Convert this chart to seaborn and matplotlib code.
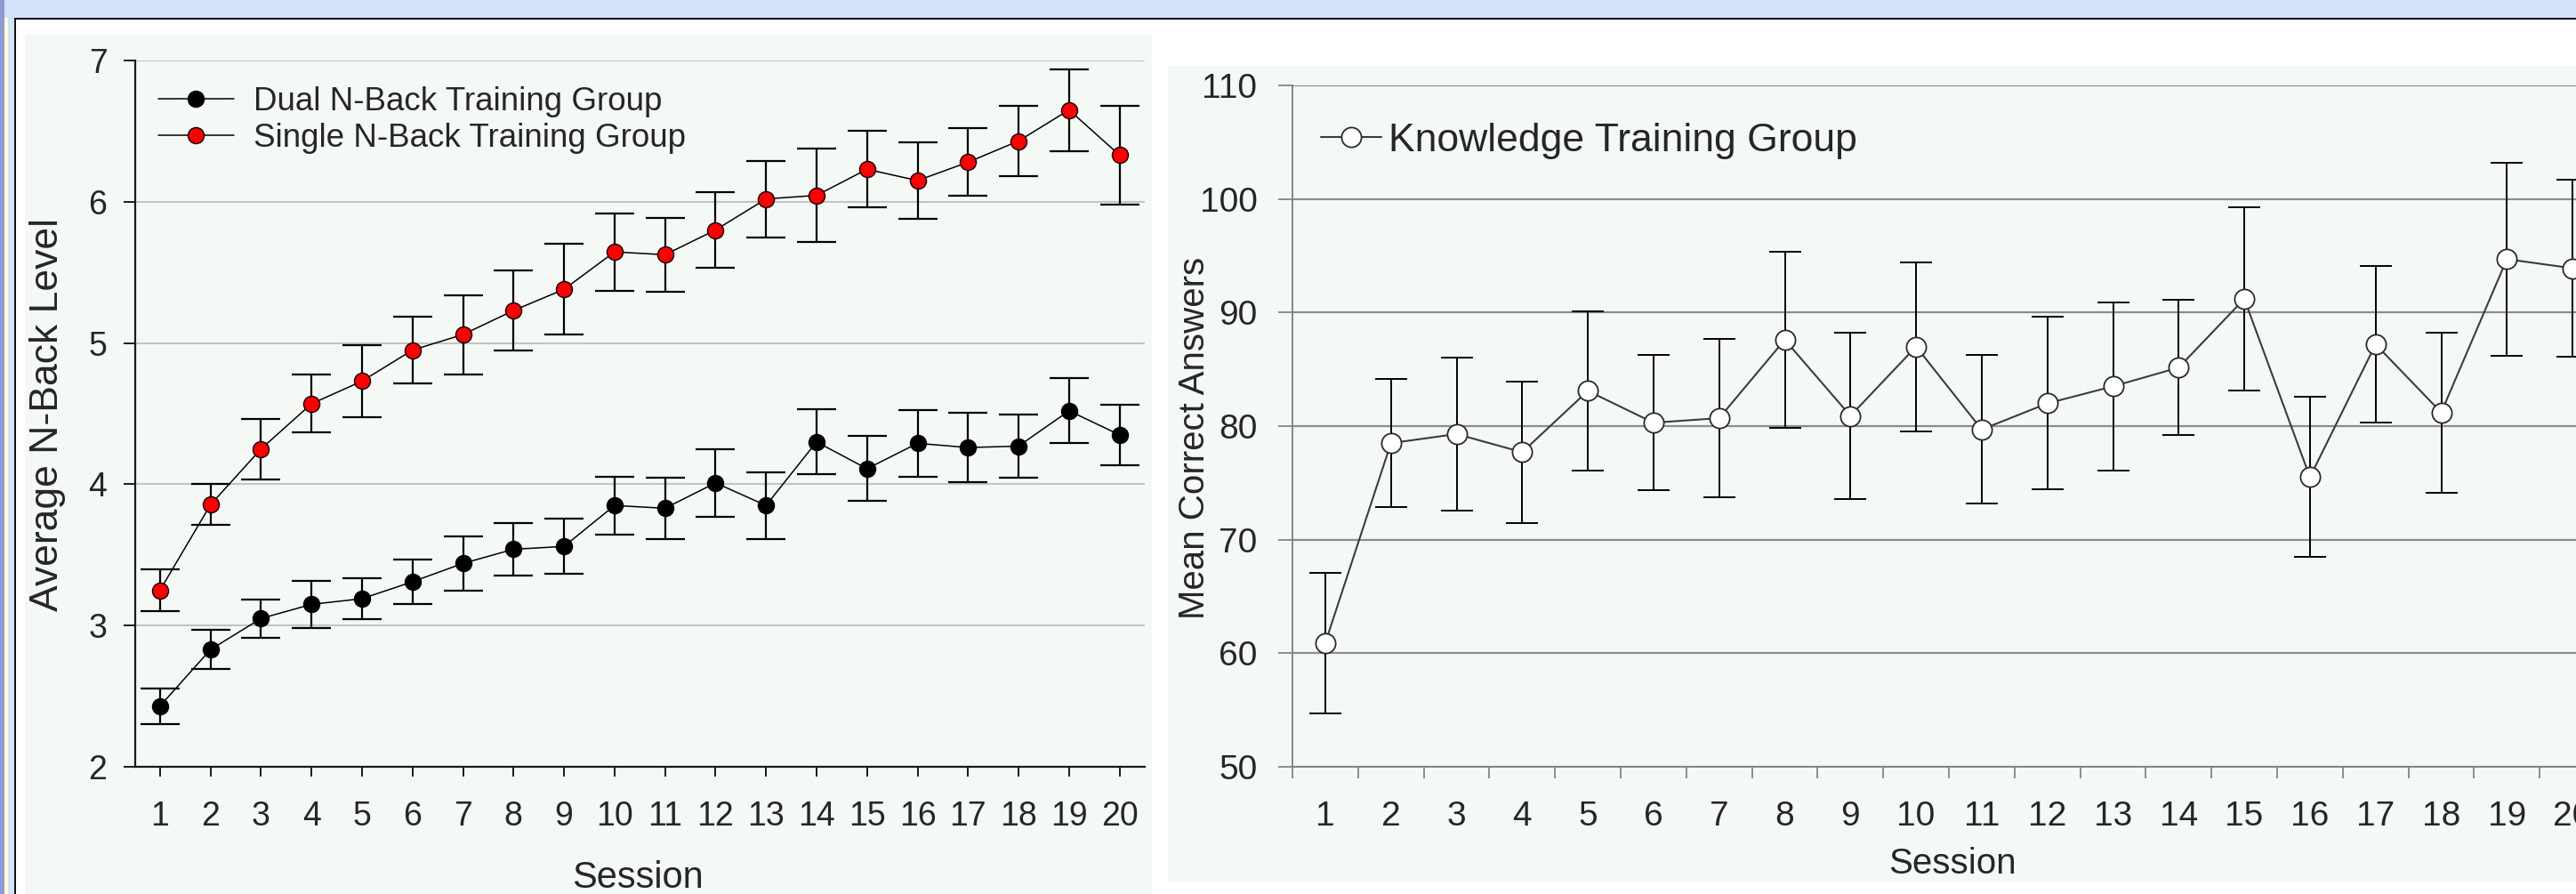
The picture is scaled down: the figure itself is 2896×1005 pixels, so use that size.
import numpy as np
import matplotlib
matplotlib.use("Agg")
import matplotlib.pyplot as plt
from matplotlib.patches import Rectangle
from matplotlib.ticker import FixedLocator, NullFormatter
import seaborn as sns

# ---- data -------------------------------------------------------------
sessions = np.arange(1, 21)

dual_mean = [2.43, 2.83, 3.05, 3.15, 3.19, 3.31, 3.44, 3.54, 3.56, 3.85,
             3.83, 4.01, 3.85, 4.30, 4.11, 4.29, 4.26, 4.27, 4.52, 4.35]
dual_se = [0.125, 0.14, 0.135, 0.165, 0.145, 0.155, 0.19, 0.185, 0.195, 0.205,
           0.215, 0.24, 0.235, 0.23, 0.23, 0.235, 0.245, 0.225, 0.23, 0.215]

single_mean = [3.25, 3.855, 4.25, 4.57, 4.73, 4.95, 5.06, 5.23, 5.38, 5.645,
               5.625, 5.80, 6.02, 6.045, 6.23, 6.15, 6.28, 6.43, 6.65, 6.33]
single_se = [0.15, 0.145, 0.215, 0.205, 0.255, 0.235, 0.28, 0.285, 0.32, 0.275,
             0.26, 0.265, 0.27, 0.33, 0.27, 0.27, 0.24, 0.25, 0.29, 0.35]

knowledge_mean = [60.9, 78.5, 79.3, 77.7, 83.1, 80.3, 80.7, 87.6, 80.9, 87.0,
                  79.7, 82.0, 83.5, 85.15, 91.2, 75.5, 87.2, 81.2, 94.7, 93.9]
knowledge_se = [6.2, 5.65, 6.75, 6.25, 7.0, 5.95, 7.0, 7.75, 7.3, 7.45,
                6.55, 7.6, 7.4, 5.95, 8.1, 7.05, 6.9, 7.05, 8.5, 7.8]

left_yticks = [2, 3, 4, 5, 6, 7]
right_yticks = [50, 60, 70, 80, 90, 100, 110]

# ---- style ------------------------------------------------------------
sns.set_style("ticks")
plt.rcParams["font.family"] = ["Liberation Sans", "DejaVu Sans"]

W, H = 2896, 1005
fig = plt.figure(figsize=(W / 100, H / 100), dpi=100)
fig.patch.set_facecolor("white")


def px_rect(x0, y0, x1, y1, color, z=-10):
    """Rectangle given in pixel coordinates measured from the top-left."""
    fig.add_artist(Rectangle((x0 / W, 1 - y1 / H), (x1 - x0) / W, (y1 - y0) / H,
                             transform=fig.transFigure, facecolor=color,
                             edgecolor="none", zorder=z))


def px_axes(x0, y0, x1, y1):
    return fig.add_axes([x0 / W, 1 - y1 / H, (x1 - x0) / W, (y1 - y0) / H])


# window frame
px_rect(0, 0, W, 20, "#D4E3FB")
px_rect(0, 0, 16, H, "#D4E3FB")
px_rect(0, 0, 5, H, "#8E9AD6")
px_rect(5, 20, 9, H, "#FFFFD0")
px_rect(16, 20, W, 22, "#111111")
px_rect(16, 20, 18, H, "#111111")
# chart panels
panel_bg = "#F5F9F5"
px_rect(28, 39, 1295, H, panel_bg)
px_rect(1313, 74, W, 992, panel_bg)

# ---- left panel: N-back level -----------------------------------------
ax1 = px_axes(151.5, 68, 1287, 862)
ax1.set_facecolor("none")

ax1.errorbar(sessions, dual_mean, yerr=dual_se, fmt="none", ecolor="black",
             elinewidth=1.6, capsize=16, capthick=1.6, zorder=2)
ax1.errorbar(sessions, single_mean, yerr=single_se, fmt="none", ecolor="black",
             elinewidth=1.6, capsize=16, capthick=1.6, zorder=2)
sns.lineplot(x=sessions, y=dual_mean, ax=ax1, color="black", linewidth=1.1,
             marker="o", markersize=13, markerfacecolor="black",
             markeredgecolor="black", markeredgewidth=1.0, errorbar=None,
             label="Dual N-Back Training Group", zorder=4)
sns.lineplot(x=sessions, y=single_mean, ax=ax1, color="black", linewidth=1.1,
             marker="o", markersize=13, markerfacecolor="#FF0000",
             markeredgecolor="black", markeredgewidth=1.0, errorbar=None,
             label="Single N-Back Training Group", zorder=4)

ax1.set_xlim(0.5, 20.5)
ax1.set_ylim(2, 7)
ax1.set_xticks(sessions)
ax1.set_yticks(left_yticks)
ax1.yaxis.grid(True, color="#C4C4C4", linewidth=1.5)
ax1.xaxis.grid(False)
ax1.set_axisbelow(True)
for s in ("top", "right"):
    ax1.spines[s].set_visible(False)
for s in ("left", "bottom"):
    ax1.spines[s].set_color("#1A1A1A")
    ax1.spines[s].set_linewidth(1.6)
ax1.tick_params(axis="x", direction="out", length=8, width=1.4,
                color="#1A1A1A", labelsize=27, pad=19)
ax1.tick_params(axis="y", direction="out", length=9.4, width=1.4,
                color="#1A1A1A", labelsize=27, pad=13)
ax1.set_xlabel("Session", fontsize=30)
ax1.set_ylabel("Average N-Back Level", fontsize=32)
ax1.xaxis.set_label_coords(0.498, -0.157)
ax1.xaxis.label.set_va("center")
ax1.yaxis.set_label_coords(-0.086, 0.499)
ax1.yaxis.label.set_va("center")

h, l = ax1.get_legend_handles_labels()
ax1.legend(h, l, loc="upper left", bbox_to_anchor=(178 / W, 1 - 97 / H),
           bbox_transform=fig.transFigure, frameon=False, fontsize=26.5,
           borderpad=0, borderaxespad=0, handlelength=2.3,
           handletextpad=0.62, labelspacing=0.17)

# ---- right panel: knowledge training ----------------------------------
ax2 = px_axes(1453, 96, 2929, 862)
ax2.set_facecolor("none")
grey = "#848484"

ax2.errorbar(sessions, knowledge_mean, yerr=knowledge_se, fmt="none",
             ecolor="black", elinewidth=1.4, capsize=13, capthick=1.4, zorder=2)
sns.lineplot(x=sessions, y=knowledge_mean, ax=ax2, color="#3C3C3C",
             linewidth=1.5, marker="o", markersize=16, markerfacecolor="white",
             markeredgecolor="#2A2A2A", markeredgewidth=1.3, errorbar=None,
             label="Knowledge Training Group", zorder=4)

ax2.set_xlim(0.5, 20.5)
ax2.set_ylim(50, 110)
ax2.set_xticks(sessions)
ax2.xaxis.set_minor_locator(FixedLocator(np.arange(0.5, 21, 1.0)))
ax2.xaxis.set_minor_formatter(NullFormatter())
ax2.set_yticks(right_yticks)
ax2.yaxis.grid(True, color="#8C8C8C", linewidth=1.6)
ax2.xaxis.grid(False)
ax2.set_axisbelow(True)
for s in ("top", "right"):
    ax2.spines[s].set_visible(False)
for s in ("left", "bottom"):
    ax2.spines[s].set_color(grey)
    ax2.spines[s].set_linewidth(1.4)
ax2.tick_params(axis="x", which="major", length=0, labelsize=28, pad=27)
ax2.tick_params(axis="x", which="minor", direction="out", length=9.4,
                width=1.3, color=grey)
ax2.tick_params(axis="y", direction="out", length=11.5, width=1.3,
                color=grey, labelsize=28, pad=17)
ax2.set_xlabel("Session", fontsize=29)
ax2.set_ylabel("Mean Correct Answers", fontsize=29)
ax2.xaxis.set_label_coords(0.503, -0.142)
ax2.xaxis.label.set_va("center")
ax2.yaxis.set_label_coords(-0.0745, 0.483)
ax2.yaxis.label.set_va("center")

h, l = ax2.get_legend_handles_labels()
ax2.legend(h, l, loc="upper left", bbox_to_anchor=(1485 / W, 1 - 138 / H),
           bbox_transform=fig.transFigure, frameon=False, fontsize=32,
           borderpad=0, borderaxespad=0, handlelength=1.52,
           handletextpad=0.18)

fig.savefig("out.png", dpi=100)
